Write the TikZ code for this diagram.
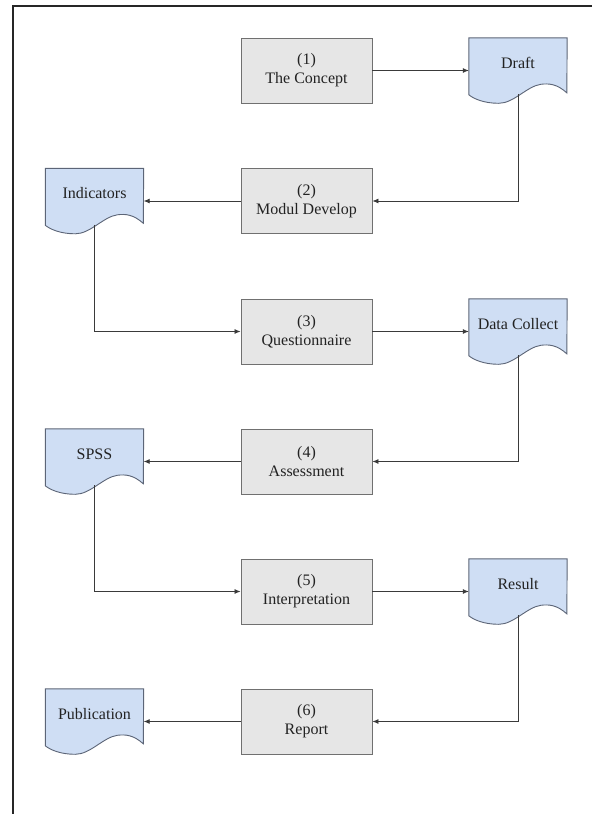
\documentclass[tikz,border=0pt]{standalone}
\usepackage{fontspec}
\setmainfont{Liberation Serif}
\usetikzlibrary{arrows.meta,calc,backgrounds}
\definecolor{boxfill}{HTML}{E6E6E6}
\definecolor{boxline}{HTML}{707070}
\definecolor{docfill}{HTML}{CFDEF4}
\definecolor{docline}{HTML}{5C6577}
\definecolor{conn}{HTML}{3A3A3A}
\definecolor{txt}{HTML}{222222}
\begin{document}
\begin{tikzpicture}[x=1pt,y=-1pt,
  stepbox/.style={draw=boxline, fill=boxfill, line width=0.9pt, minimum width=131pt, minimum height=65pt,
    inner sep=0pt, align=center, text=txt, font=\fontsize{16}{19}\selectfont},
  docnode/.style={minimum width=98pt, minimum height=65pt, inner sep=0pt, text=txt,
    text height=10pt, text depth=15pt, font=\fontsize{16}{19}\selectfont},
  docshape/.style={draw=docline, fill=docfill, line width=0.9pt},
  link/.style={draw=conn, line width=0.8pt, -{Latex[length=6pt,width=5pt]}},
  frameline/.style={draw=black!85, line width=1.2pt}
]
\useasboundingbox (0,0) rectangle (592,814);
\draw[frameline] (592,6) -- (13,6) -- (13,814);

\node[stepbox] (b1) at (306.5,70.5) {(1)\\The Concept};
\node[stepbox] (b2) at (306.5,201) {(2)\\Modul Develop};
\node[stepbox] (b3) at (306.5,331.5) {(3)\\Questionnaire};
\node[stepbox] (b4) at (306.5,461.5) {(4)\\Assessment};
\node[stepbox] (b5) at (306.5,591.5) {(5)\\Interpretation};
\node[stepbox] (b6) at (306.5,721.5) {(6)\\Report};

\node[docnode] (draft) at (518,70.5) {Draft};
\node[docnode] (ind) at (94.5,201) {Indicators};
\node[docnode] (dc) at (518,331.5) {Data Collect};
\node[docnode] (spss) at (94.5,461.5) {SPSS};
\node[docnode] (res) at (518,591.5) {Result};
\node[docnode] (pub) at (94.5,721.5) {Publication};

\begin{scope}[on background layer]
\foreach \n in {draft,ind,dc,spss,res,pub}{
  \draw[docshape] (\n.north west) -- (\n.north east)
    -- ($(\n.north west)+(98,55)$)
    .. controls ($(\n.north west)+(88,46)$) and ($(\n.north west)+(80,45.5)$) .. ($(\n.north west)+(72,46.5)$)
    .. controls ($(\n.north west)+(58,48.5)$) and ($(\n.north west)+(45,65.5)$) .. ($(\n.north west)+(30,65.5)$)
    .. controls ($(\n.north west)+(15,65.5)$) and ($(\n.north west)+(5,61)$) .. ($(\n.north west)+(0,57)$)
    -- cycle;
}
\end{scope}

\draw[link] (b1.east) -- (draft.west);
\draw[link] ([yshift=9pt]draft.south) |- (b2.east);
\draw[link] (b2.west) -- (ind.east);
\draw[link] ([yshift=9pt]ind.south) |- (b3.west);
\draw[link] (b3.east) -- (dc.west);
\draw[link] ([yshift=9pt]dc.south) |- (b4.east);
\draw[link] (b4.west) -- (spss.east);
\draw[link] ([yshift=9pt]spss.south) |- (b5.west);
\draw[link] (b5.east) -- (res.west);
\draw[link] ([yshift=9pt]res.south) |- (b6.east);
\draw[link] (b6.west) -- (pub.east);
\end{tikzpicture}
\end{document}
